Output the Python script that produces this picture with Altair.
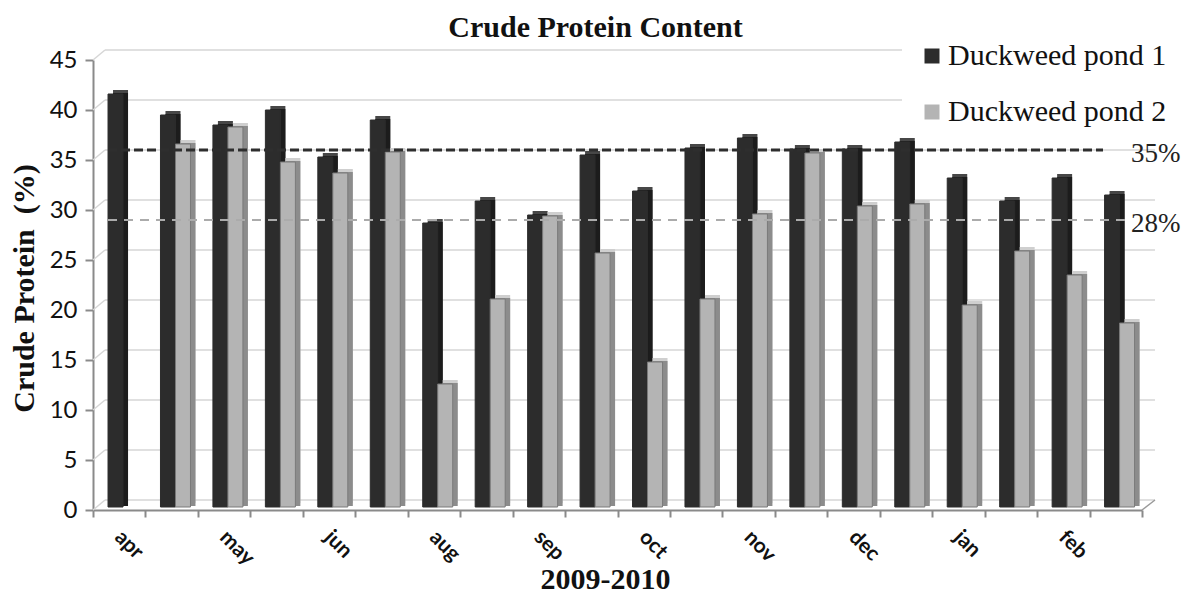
import altair as alt
import pandas as pd

# ---------------- data ----------------
samples = ["apr", "apr-2", "may", "may-2", "jun", "jun-2", "aug", "aug-2",
           "sep", "sep-2", "oct", "oct-2", "nov", "nov-2", "dec", "dec-2",
           "jan", "jan-2", "feb", "feb-2"]
pond1 = [41.3, 39.2, 38.2, 39.7, 35.0, 38.7, 28.4, 30.6, 29.2, 35.2,
         31.6, 35.9, 36.9, 35.8, 35.8, 36.5, 32.9, 30.6, 32.9, 31.2]
pond2 = [None, 36.3, 38.0, 34.5, 33.4, 35.5, 12.3, 20.8, 29.1, 25.4,
         14.5, 20.8, 29.3, 35.4, 30.1, 30.3, 20.2, 25.6, 23.2, 18.4]
series_names = ["Duckweed pond 1", "Duckweed pond 2"]
y_ticks = [0, 5, 10, 15, 20, 25, 30, 35, 40, 45]
ref_values = [35, 28]
ref_labels = ["35%", "28%"]

# ---------------- styling ----------------
front_colors = ["#2c2c2c", "#b4b4b4"]
side_colors = ["#1c1c1c", "#8c8c8c"]
top_colors = ["#474747", "#cfcfcf"]
W, H = 1049, 450
BAR_W = 15
BAR_DX = [-3.7, 11.3]      # pixel shift of each series inside its band
SERIF = "Liberation Serif"
SANS = "Lato"

rows = []
for s, a, b in zip(samples, pond1, pond2):
    rows.append({"sample": s, "series": series_names[0], "value": a})
    if b is not None:
        rows.append({"sample": s, "series": series_names[1], "value": b})
bars = pd.DataFrame(rows)
grid = pd.DataFrame({"v": y_ticks})
refs = pd.DataFrame({"v": ref_values, "label": ref_labels})

x_scale = alt.Scale(domain=samples, paddingInner=0, paddingOuter=0)
y_scale = alt.Scale(domain=[0, 45], nice=False)

x_axis = alt.Axis(
    title="2009-2010",
    labelExpr="indexof(datum.label, '-2') >= 0 ? '' : datum.label",
    labelAngle=45, labelAlign="left", labelBaseline="alphabetic",
    labelOffset=-6, labelPadding=21, labelFont=SANS, labelFontWeight="bold",
    labelFontSize=21, labelColor="#111111", labelOverlap=False, labelFlush=False,
    tickBand="extent", tickSize=7, tickColor="#8a8a8a", tickWidth=2,
    domainColor="#8a8a8a", domainWidth=2, grid=False,
    titleFont=SERIF, titleFontSize=30, titleFontWeight="bold", titleColor="#111111",
    titleX=512, titleY=78, titleAlign="center", titleBaseline="alphabetic",
)
y_axis = alt.Axis(
    title="Crude Protein\u00a0 (%)", values=y_ticks, grid=False,
    domainColor="#8a8a8a", domainWidth=2, tickColor="#8a8a8a", tickWidth=2,
    tickSize=8, labelFont=SANS, labelFontSize=24, labelColor="#111111",
    labelPadding=8,
    titleFont=SERIF, titleFontSize=30, titleFontWeight="bold", titleColor="#111111",
    titleAngle=270, titleX=-60, titleY=228, titleAlign="center",
    titleBaseline="alphabetic",
)

legend = alt.Legend(
    title=None, orient="none", legendX=808, legendY=-35,
    symbolType="square", symbolSize=225, symbolStrokeWidth=0,
    labelFont=SERIF, labelFontSize=30, labelColor="#111111", labelOffset=1,
    labelLimit=400, rowPadding=26, padding=16,
)

def xenc():
    return alt.X("sample:N", scale=x_scale, axis=x_axis, sort=samples)

def yenc(field="value"):
    return alt.Y(f"{field}:Q", scale=y_scale, axis=y_axis)

# back wall gridlines (upper ones stop short of the legend) and wall edges
grid_base = alt.Chart(grid).encode(y=yenc("v"))
grid_long = grid_base.transform_filter("datum.v < 40").mark_rule(
    color="#d6d6d6", strokeWidth=1.5, yOffset=-10).encode(
    x=alt.value(12), x2=alt.value(W + 13))
grid_short = grid_base.transform_filter("datum.v >= 40").mark_rule(
    color="#d6d6d6", strokeWidth=1.5, yOffset=-10).encode(
    x=alt.value(12), x2=alt.value(809))
grid_diag = grid_base.mark_rule(color="#d6d6d6", strokeWidth=1.5, y2Offset=-10).encode(
    x=alt.value(0), x2=alt.value(12), y2="v:Q")
floor_diag = grid_base.transform_filter("datum.v == 0").mark_rule(
    color="#9a9a9a", strokeWidth=1.5, y2Offset=-10).encode(
    x=alt.value(W), x2=alt.value(W + 13), y2="v:Q")

layers = [grid_long, grid_short, grid_diag, floor_diag]

# 3D-ish columns: top/side faces first, then the front faces
for i, name in enumerate(series_names):
    base = alt.Chart(bars).transform_filter(alt.datum.series == name).encode(
        x=xenc(), y=yenc())
    layers.append(base.mark_bar(width=BAR_W, xOffset=BAR_DX[i] + 5, yOffset=-7,
                                y2Offset=-7, color=top_colors[i]))
    layers.append(base.mark_bar(width=BAR_W, xOffset=BAR_DX[i] + 5, yOffset=-4,
                                y2Offset=-4, color=side_colors[i]))

for i, name in enumerate(series_names):
    base = alt.Chart(bars).transform_filter(alt.datum.series == name).encode(
        x=xenc(), y=yenc())
    stroke = "#7a7a7a" if i == 1 else front_colors[0]
    layers.append(base.mark_bar(width=BAR_W, xOffset=BAR_DX[i], yOffset=-3,
                                y2Offset=-3, stroke=stroke, strokeWidth=1).encode(
        color=alt.Color("series:N", scale=alt.Scale(domain=series_names, range=front_colors),
                        legend=legend)))

# reference lines
ref_base = alt.Chart(refs).encode(y=yenc("v"))
ref35 = ref_base.transform_filter(alt.datum.label == "35%").mark_rule(
    color="#2e2e2e", strokeWidth=3, strokeDash=[9, 4], yOffset=-10).encode(
    x=alt.value(15), x2=alt.value(1010))
ref28 = ref_base.transform_filter(alt.datum.label == "28%").mark_rule(
    color="#ababab", strokeWidth=2, strokeDash=[9, 7], yOffset=-10).encode(
    x=alt.value(15), x2=alt.value(1038))
ref_text = ref_base.mark_text(align="left", baseline="middle", font=SERIF,
                              fontSize=27, color="#222222", yOffset=-6).encode(
    x=alt.value(1038), text="label:N")
layers += [ref35, ref28, ref_text]

chart = alt.layer(*layers).properties(
    width=W, height=H,
    title=alt.Title("Crude Protein Content", font=SERIF, fontSize=30,
                    fontWeight="bold", color="#111111", anchor="middle", dx=-22,
                    dy=42, baseline="alphabetic", offset=0),
    autosize=alt.AutoSizeParams(type="none"),
    padding={"left": 85, "top": 52, "right": 40, "bottom": 84},
).configure(background="white").configure_view(stroke=None)

chart.save("out.html", embed_options={"renderer": "svg", "actions": False})
